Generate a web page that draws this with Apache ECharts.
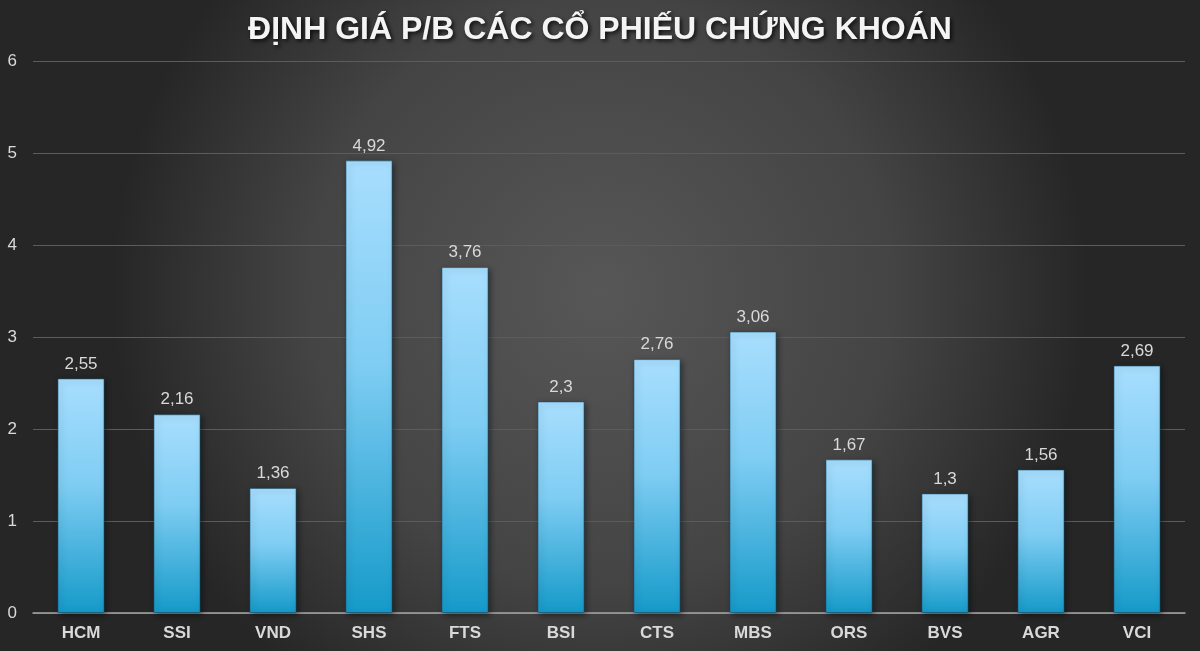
<!DOCTYPE html>
<html>
<head>
<meta charset="utf-8">
<script src="https://cdn.jsdelivr.net/npm/echarts@6/dist/echarts.min.js"></script>
<style>
html,body{margin:0;padding:0;background:#333;}
#chart{width:1200px;height:651px;}
</style>
</head>
<body>
<div id="chart"></div>
<script>
const categories = ['HCM','SSI','VND','SHS','FTS','BSI','CTS','MBS','ORS','BVS','AGR','VCI'];
const pbValues = [2.55, 2.16, 1.36, 4.92, 3.76, 2.3, 2.76, 3.06, 1.67, 1.3, 1.56, 2.69];
const yTicks = [0, 1, 2, 3, 4, 5, 6];
const titleText = 'ĐỊNH GIÁ P/B CÁC CỔ PHIẾU CHỨNG KHOÁN';

const chart = echarts.init(document.getElementById('chart'));
const fmt = v => String(v).replace('.', ',');
const FONT = 'Liberation Sans, Arial, sans-serif';
chart.setOption({
  backgroundColor: {
    type: 'radial', x: 0.5, y: 0.45, r: 0.75,
    colorStops: [
      {offset: 0, color: '#575757'},
      {offset: 0.6, color: '#444444'},
      {offset: 1, color: '#262626'}
    ]
  },
  title: {
    text: titleText,
    left: 'center',
    top: 9,
    textStyle: {
      color: '#f4f4f4', fontSize: 32, fontWeight: 'bold', fontFamily: FONT,
      textShadowColor: 'rgba(0,0,0,0.8)', textShadowBlur: 4, textShadowOffsetX: 2, textShadowOffsetY: 2
    }
  },
  grid: {left: 33, right: 15, top: 61, bottom: 38, containLabel: false},
  xAxis: {
    type: 'category',
    data: categories,
    axisLine: {lineStyle: {color: '#a6a6a6', width: 1.5}},
    axisTick: {show: false},
    axisLabel: {color: '#d9d9d9', fontSize: 17, fontWeight: 'bold', margin: 12, fontFamily: FONT}
  },
  yAxis: {
    type: 'value',
    min: yTicks[0], max: yTicks[yTicks.length - 1], interval: 1,
    axisLine: {show: false},
    axisTick: {show: false},
    splitLine: {lineStyle: {color: '#5c5c5c', width: 1}},
    axisLabel: {color: '#d9d9d9', fontSize: 17, margin: 16, fontFamily: FONT}
  },
  series: [{
    type: 'bar',
    data: pbValues,
    barWidth: '49%',
    itemStyle: {
      color: {
        type: 'linear', x: 0, y: 0, x2: 0, y2: 1,
        colorStops: [
          {offset: 0, color: '#a8defe'},
          {offset: 0.45, color: '#7fcdf3'},
          {offset: 1, color: '#159ac9'}
        ]
      },
      borderColor: 'rgba(20,80,110,0.6)',
      borderWidth: 1,
      shadowColor: 'rgba(0,0,0,0.45)',
      shadowBlur: 6,
      shadowOffsetX: 2,
      shadowOffsetY: 2
    },
    label: {
      show: true, position: 'top', distance: 6,
      color: '#d9d9d9', fontSize: 17, fontFamily: FONT,
      formatter: p => fmt(p.value)
    }
  }]
});
</script>
</body>
</html>
